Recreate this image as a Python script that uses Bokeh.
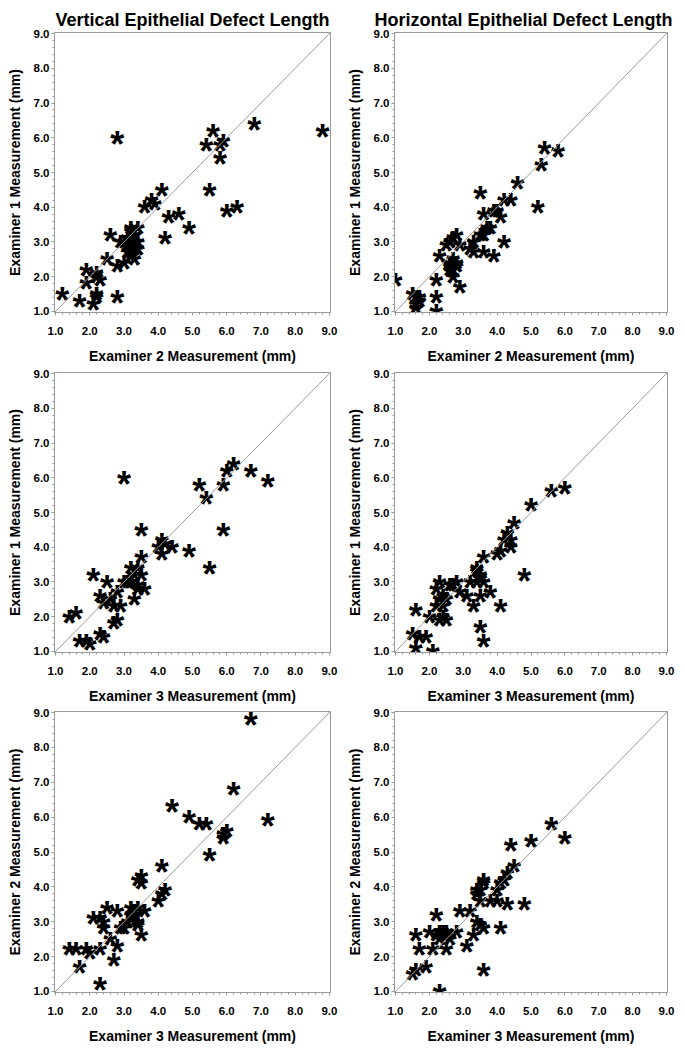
import numpy as np
from bokeh.plotting import figure
from bokeh.layouts import column, row
from bokeh.models import Range1d, FixedTicker, Slope, ColumnDataSource
from bokeh.core.properties import value
from bokeh.embed import file_html
from bokeh.resources import INLINE

# ---------------- data ----------------
titles = ["Vertical Epithelial Defect Length", "Horizontal Epithelial Defect Length"]
x_labels = ["Examiner 2 Measurement (mm)", "Examiner 3 Measurement (mm)", "Examiner 3 Measurement (mm)"]
y_labels = ["Examiner 1 Measurement (mm)", "Examiner 1 Measurement (mm)", "Examiner 2 Measurement (mm)"]

major_ticks = [1, 2, 3, 4, 5, 6, 7, 8, 9]
tick_labels = ["1.0", "2.0", "3.0", "4.0", "5.0", "6.0", "7.0", "8.0", "9.0"]

# Vertical: Examiner 2 (x) vs Examiner 1 (y)
vert_e2_a = [1.2, 1.7, 1.9, 1.9, 2.1, 2.2, 2.2, 2.2, 2.2, 2.3, 2.5, 2.6, 2.8, 2.8, 2.8, 3.0, 2.9, 3.0, 3.1, 3.1,
             3.2, 3.2, 3.3, 3.3, 3.2, 3.4, 3.4, 3.3, 3.4, 3.2, 3.1, 3.3, 3.6, 3.8, 3.9, 4.1, 4.2, 4.3, 4.6, 4.9,
             5.4, 5.5, 5.6, 5.8, 5.8, 5.9, 6.0, 6.3, 6.8, 8.8]
vert_e1_a = [1.5, 1.3, 2.2, 1.8, 1.2, 1.4, 1.5, 2.1, 2.0, 1.9, 2.5, 3.2, 1.4, 6.0, 2.3, 2.4, 3.0, 3.0, 3.1, 2.9,
             2.7, 3.3, 3.0, 2.8, 2.6, 3.4, 3.0, 2.5, 2.8, 3.4, 2.7, 3.2, 4.0, 4.2, 4.1, 4.5, 3.1, 3.7, 3.8, 3.4,
             5.8, 4.5, 6.2, 5.4, 5.8, 5.9, 3.9, 4.0, 6.4, 6.2]

# Horizontal: Examiner 2 (x) vs Examiner 1 (y)
horiz_e2_a = [1.0, 1.5, 1.6, 1.6, 1.7, 1.7, 1.6, 2.2, 2.2, 2.2, 2.3, 2.5, 2.6, 2.6, 2.6, 2.7, 2.7, 2.7, 2.8, 2.8,
              2.7, 2.6, 2.8, 2.9, 2.9, 3.2, 3.3, 3.3, 3.5, 3.5, 3.6, 3.6, 3.6, 3.7, 3.8, 3.9, 3.9, 4.0, 4.1, 4.2,
              4.2, 4.4, 4.6, 5.2, 5.3, 5.4, 5.8]
horiz_e1_a = [1.9, 1.5, 1.4, 1.1, 1.3, 1.4, 1.2, 1.9, 1.4, 1.0, 2.6, 2.9, 3.0, 2.4, 2.3, 2.5, 2.2, 2.0, 3.2, 2.3,
              3.1, 2.2, 2.4, 2.9, 1.7, 2.8, 3.0, 2.7, 4.4, 3.2, 3.8, 2.7, 3.2, 3.4, 3.4, 2.6, 3.9, 3.9, 3.7, 3.0,
              4.2, 4.2, 4.7, 4.0, 5.2, 5.7, 5.6]

# Vertical: Examiner 3 (x) vs Examiner 1 (y)
vert_e3_b = [1.4, 1.6, 1.7, 1.9, 2.0, 2.1, 2.3, 2.3, 2.4, 2.4, 2.5, 2.6, 2.7, 2.7, 2.8, 2.8, 2.9, 3.0, 3.0, 3.2,
             3.2, 3.3, 3.3, 3.4, 3.4, 3.4, 3.5, 3.5, 3.5, 3.6, 4.0, 4.1, 4.1, 4.2, 4.4, 4.9, 5.2, 5.4, 5.5, 5.9,
             5.9, 6.0, 6.2, 6.7, 7.2, 3.1]
vert_e1_b = [2.0, 2.1, 1.3, 1.3, 1.2, 3.2, 2.6, 1.5, 1.4, 2.4, 3.0, 2.5, 2.3, 1.8, 1.9, 2.7, 2.3, 6.0, 3.0, 3.0,
             3.4, 3.2, 2.5, 2.9, 3.4, 2.8, 3.2, 3.7, 4.5, 2.8, 4.0, 4.2, 3.8, 4.1, 4.0, 3.9, 5.8, 5.4, 3.4, 5.8,
             4.5, 6.2, 6.4, 6.2, 5.9, 3.0]

# Horizontal: Examiner 3 (x) vs Examiner 1 (y)
horiz_e3_b = [1.5, 1.6, 1.6, 1.7, 1.9, 2.0, 2.1, 2.2, 2.3, 2.2, 2.3, 2.3, 2.4, 2.4, 2.5, 2.5, 2.4, 2.6, 2.7, 2.8,
              2.9, 3.1, 3.2, 3.3, 3.4, 3.4, 3.5, 3.5, 3.6, 3.6, 3.5, 3.6, 3.8, 4.0, 4.1, 4.1, 4.2, 4.3, 4.4, 4.4,
              4.5, 4.8, 5.0, 5.6, 6.0, 3.5, 3.4]
horiz_e1_b = [1.5, 2.2, 1.1, 1.4, 1.4, 2.0, 1.0, 2.8, 3.0, 2.3, 2.5, 1.9, 2.0, 2.3, 2.5, 1.9, 2.6, 2.9, 2.9, 3.0,
              2.7, 2.6, 3.0, 2.3, 3.0, 3.4, 3.2, 1.7, 1.3, 3.7, 2.6, 3.0, 2.7, 3.8, 3.9, 2.3, 4.2, 4.4, 4.0, 4.2,
              4.7, 3.2, 5.2, 5.6, 5.7, 3.1, 3.3]

# Vertical: Examiner 3 (x) vs Examiner 2 (y)
vert_e3_c = [1.4, 1.6, 1.7, 1.9, 2.0, 2.1, 2.3, 2.3, 2.3, 2.4, 2.4, 2.5, 2.6, 2.7, 2.8, 2.8, 2.9, 3.0, 3.1, 3.2,
             3.2, 3.3, 3.4, 3.3, 3.4, 3.4, 3.4, 3.5, 3.5, 3.5, 3.6, 4.0, 4.1, 4.1, 4.2, 4.4, 4.9, 5.2, 5.4, 5.5,
             5.9, 5.9, 6.0, 6.2, 6.7, 7.2]
vert_e2_c = [2.2, 2.2, 1.7, 2.2, 2.1, 3.1, 2.2, 1.2, 3.1, 3.0, 2.8, 3.4, 2.5, 1.9, 3.3, 2.3, 2.8, 2.8, 3.0, 3.4,
             3.2, 3.3, 3.4, 3.2, 3.0, 2.9, 4.2, 4.3, 4.1, 2.6, 3.3, 3.6, 4.6, 3.8, 3.9, 6.3, 6.0, 5.8, 5.8, 4.9,
             5.4, 5.5, 5.6, 6.8, 8.8, 5.9]

# Horizontal: Examiner 3 (x) vs Examiner 2 (y)
horiz_e3_c = [1.5, 1.6, 1.6, 1.7, 1.9, 2.0, 2.1, 2.2, 2.3, 2.2, 2.3, 2.3, 2.4, 2.4, 2.5, 2.5, 2.6, 2.5, 2.8, 2.9,
              3.1, 3.2, 3.3, 3.4, 3.4, 3.4, 3.5, 3.5, 3.6, 3.6, 3.6, 3.6, 3.5, 3.8, 4.0, 4.0, 4.1, 4.2, 4.3, 4.3,
              4.1, 4.4, 4.5, 4.8, 5.0, 5.6, 6.0]
horiz_e2_c = [1.5, 1.6, 2.6, 2.2, 1.7, 2.7, 2.2, 3.2, 1.0, 2.6, 2.5, 2.7, 2.6, 2.7, 2.6, 2.7, 2.5, 2.2, 2.7, 3.3,
              2.3, 3.3, 2.6, 3.9, 3.8, 3.0, 2.9, 3.6, 4.1, 4.2, 2.8, 1.6, 3.9, 3.6, 3.6, 3.9, 4.1, 4.2, 4.4, 3.5,
              2.8, 5.2, 4.6, 3.5, 5.3, 5.8, 5.4]

# ---------------- styling ----------------
FONT = "Liberation Sans"
GRAY = "#9a9a9a"
AX_LO, AX_HI = 0.97, 9.03
STAR_SIZE = 36

col_geom = [dict(left=54, right=12, fw=276, title_align="center", title_offset=0),
            dict(left=52, right=9, fw=273, title_align="left", title_offset=-20)]
row_geom = [dict(top=32, bottom=56, fh=280), dict(top=4, bottom=56, fh=280), dict(top=3, bottom=50, fh=281)]


def make_panel(xs, ys, r, c):
    cg, rg = col_geom[c], row_geom[r]
    kw = dict(frame_width=cg["fw"], frame_height=rg["fh"],
              min_border_left=cg["left"], min_border_right=cg["right"],
              min_border_top=rg["top"], min_border_bottom=rg["bottom"],
              x_range=Range1d(AX_LO, AX_HI), y_range=Range1d(AX_LO, AX_HI),
              output_backend="svg", toolbar_location=None)
    if r == 0:
        kw["title"] = titles[c]
    p = figure(**kw)
    if r == 0:
        p.title.text_font = FONT
        p.title.text_font_size = "18px"
        p.title.text_font_style = "bold"
        p.title.align = cg["title_align"]
        p.title.offset = cg["title_offset"]
        p.title.standoff = 5
        p.title.text_color = "black"
    p.xgrid.visible = False
    p.ygrid.visible = False
    p.outline_line_color = GRAY
    p.outline_line_width = 1
    p.background_fill_color = "white"
    p.border_fill_color = "white"

    minor = [round(v, 1) for v in np.arange(1.0, 9.01, 0.2)]
    for ax in (p.xaxis[0], p.yaxis[0]):
        ax.ticker = FixedTicker(ticks=major_ticks, minor_ticks=minor)
        ax.major_label_overrides = {t: l for t, l in zip(major_ticks, tick_labels)}
        ax.axis_line_color = GRAY
        ax.major_tick_line_color = GRAY
        ax.minor_tick_line_color = GRAY
        ax.major_tick_in = 0
        ax.minor_tick_in = 0
        ax.major_tick_out = 3
        ax.minor_tick_out = 2
        ax.major_label_text_font = FONT
        ax.major_label_text_font_style = "bold"
        ax.major_label_text_font_size = "11.5px"
        ax.major_label_text_color = "black"
        ax.axis_label_text_font = FONT
        ax.axis_label_text_font_style = "bold"
        ax.axis_label_text_font_size = "14px"
        ax.axis_label_text_color = "black"
    p.xaxis.axis_label = x_labels[r]
    p.yaxis.axis_label = y_labels[r]
    p.xaxis.major_label_standoff = 11
    p.xaxis.axis_label_standoff = 10
    p.yaxis.major_label_standoff = 2
    p.yaxis.axis_label_standoff = 8

    p.add_layout(Slope(gradient=1, y_intercept=0, line_color=GRAY, line_width=1))

    src = ColumnDataSource(dict(x=xs, y=ys))
    p.text(x="x", y="y", text=value("*"), source=src, text_font=value(FONT),
           text_font_style="bold", text_font_size=f"{STAR_SIZE}px",
           text_align="center", text_baseline="alphabetic",
           y_offset=0.175 * STAR_SIZE, text_color="black")
    return p


panels = [
    [make_panel(vert_e2_a, vert_e1_a, 0, 0), make_panel(horiz_e2_a, horiz_e1_a, 0, 1)],
    [make_panel(vert_e3_b, vert_e1_b, 1, 0), make_panel(horiz_e3_b, horiz_e1_b, 1, 1)],
    [make_panel(vert_e3_c, vert_e2_c, 2, 0), make_panel(horiz_e3_c, horiz_e2_c, 2, 1)],
]

layout = column(*[row(*rp) for rp in panels])
open("out.html", "w").write(file_html(layout, INLINE))
